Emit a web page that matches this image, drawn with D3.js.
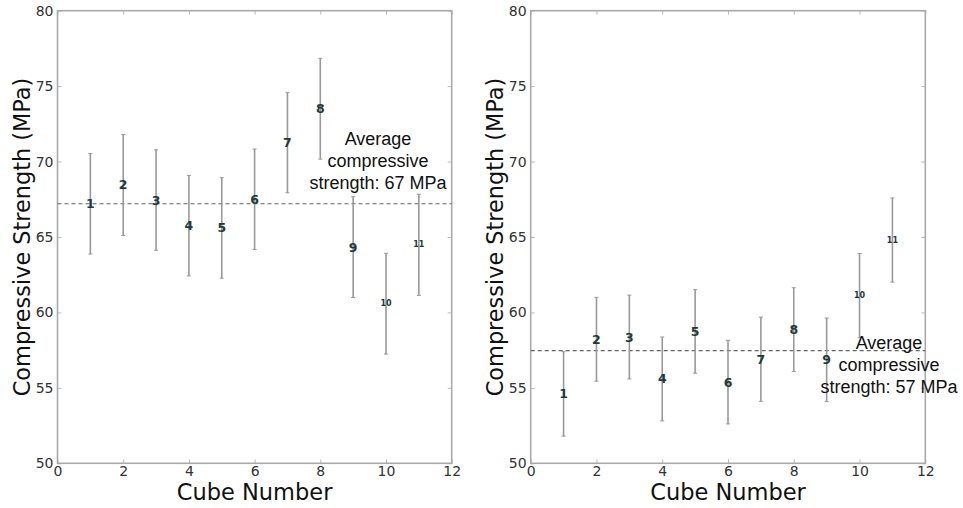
<!DOCTYPE html>
<html><head><meta charset="utf-8">
<script src="https://cdn.jsdelivr.net/npm/d3@7"></script>
<style>body{margin:0;background:#fff}svg{display:block}</style>
</head><body>
<svg id="chart" width="963" height="508"></svg>
<script>
const cubes = [1,2,3,4,5,6,7,8,9,10,11];
const leftMeans = [67.2,68.45,67.45,65.75,65.6,67.5,71.25,73.5,64.33,60.58,64.48];
const leftErrs  = [3.33,3.35,3.33,3.33,3.33,3.33,3.32,3.34,3.34,3.34,3.35];
const leftAvg = 67.2;
const leftNote = ["Average","compressive","strength: 67 MPa"];
const rightMeans = [54.6,58.22,58.37,55.59,58.74,55.38,56.9,58.86,56.86,61.12,64.8];
const rightErrs  = [2.8,2.78,2.78,2.78,2.77,2.77,2.79,2.78,2.77,2.79,2.79];
const rightAvg = 57.47;
const rightNote = ["Average","compressive","strength: 57 MPa"];
const xTicks = [0,2,4,6,8,10,12];
const yTicks = [50,55,60,65,70,75,80];
const xLabel = "Cube Number";
const yLabel = "Compressive Strength (MPa)";

const svg = d3.select("#chart");

function panel(x0, x1, means, errs, avg, note, noteX, noteY, ylabX) {
  const y0 = 10.7, y1 = 463.3;
  const x = d3.scaleLinear().domain([0,12]).range([x0,x1]);
  const y = d3.scaleLinear().domain([50,80]).range([y1,y0]);
  const g = svg.append("g");

  const xa = g.append("g").attr("transform",`translate(0,${y1})`)
    .call(d3.axisBottom(x).tickValues(xTicks).tickSize(-4).tickPadding(3).tickFormat(d3.format("d")));
  const ya = g.append("g").attr("transform",`translate(${x0},0)`)
    .call(d3.axisLeft(y).tickValues(yTicks).tickSize(-4).tickPadding(4).tickFormat(d3.format("d")));
  const xt = g.append("g").attr("transform",`translate(0,${y0})`)
    .call(d3.axisTop(x).tickValues(xTicks).tickSize(-4).tickFormat(""));
  const yr = g.append("g").attr("transform",`translate(${x1},0)`)
    .call(d3.axisRight(y).tickValues(yTicks).tickSize(-4).tickFormat(""));
  [xa,ya,xt,yr].forEach(a=>{
    a.select(".domain").remove();
    a.selectAll(".tick line").attr("stroke","#bbb").attr("stroke-width",1);
    a.selectAll(".tick text").attr("fill","#333").attr("font-family","DejaVu Sans").attr("font-size",14);
  });

  g.append("rect").attr("x",x0).attr("y",y0).attr("width",x1-x0).attr("height",y1-y0)
    .attr("fill","none").attr("stroke","#aaa").attr("stroke-width",1.6);

  g.append("line").attr("x1",x0).attr("x2",x1).attr("y1",y(avg)).attr("y2",y(avg))
    .attr("stroke","#666").attr("stroke-width",1.1).attr("stroke-dasharray","4,3");

  const eb = g.append("g").selectAll("g").data(cubes).join("g");
  eb.append("line").attr("x1",d=>x(d)).attr("x2",d=>x(d))
    .attr("y1",(d,i)=>y(means[i]+errs[i])).attr("y2",(d,i)=>y(means[i]-errs[i]))
    .attr("stroke","#999").attr("stroke-width",1.6);
  eb.append("line").attr("x1",d=>x(d)-2).attr("x2",d=>x(d)+2)
    .attr("y1",(d,i)=>y(means[i]+errs[i])).attr("y2",(d,i)=>y(means[i]+errs[i]))
    .attr("stroke","#999").attr("stroke-width",1);
  eb.append("line").attr("x1",d=>x(d)-2).attr("x2",d=>x(d)+2)
    .attr("y1",(d,i)=>y(means[i]-errs[i])).attr("y2",(d,i)=>y(means[i]-errs[i]))
    .attr("stroke","#999").attr("stroke-width",1);
  eb.append("text").attr("x",d=>x(d)).attr("y",(d,i)=>y(means[i]))
    .attr("text-anchor","middle").attr("dominant-baseline","central")
    .attr("font-family","DejaVu Sans").attr("font-weight","bold")
    .attr("font-size",d=>d>=10?8:12.5).attr("fill","#1f3a3a")
    .text(d=>d);

  g.append("text").attr("text-anchor","middle").attr("font-family","Liberation Sans, Arial")
    .attr("font-size",18).attr("fill","#111")
    .selectAll("tspan").data(note).join("tspan")
    .attr("x",noteX).attr("y",(d,i)=>noteY+i*22).text(d=>d);

  g.append("text").attr("x",(x0+x1)/2).attr("y",500).attr("text-anchor","middle")
    .attr("font-family","DejaVu Sans").attr("font-size",22.5).attr("fill","#111").text(xLabel);
  g.append("text").attr("transform",`translate(${ylabX},${(y0+y1)/2}) rotate(-90)`)
    .attr("text-anchor","middle").attr("font-family","DejaVu Sans").attr("font-size",22.4)
    .attr("fill","#111").text(yLabel);
}

panel(57.5, 451.7, leftMeans, leftErrs, leftAvg, leftNote, 378, 145, 29.5);
panel(530.7, 925.3, rightMeans, rightErrs, rightAvg, rightNote, 889, 349, 503);
</script>
</body></html>
